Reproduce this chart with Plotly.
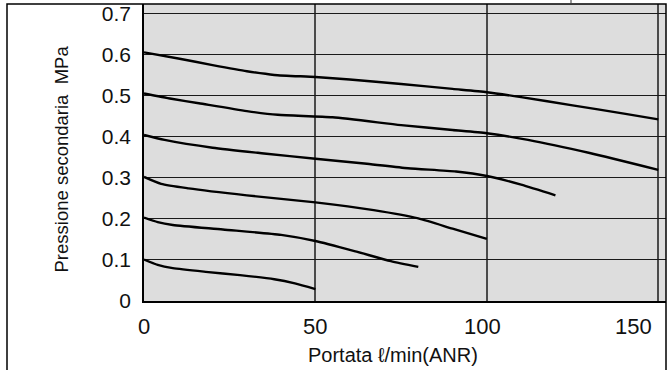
import plotly.graph_objects as go

# Flow (l/min ANR) and secondary pressure (MPa) for each set pressure curve
flow_06 = [0, 10, 20, 30, 38, 50, 60, 75, 90, 100, 110, 125, 140, 150]
pres_06 = [0.605, 0.590, 0.574, 0.559, 0.550, 0.545, 0.539, 0.528, 0.516, 0.508, 0.496, 0.476, 0.456, 0.442]

flow_05 = [0, 8, 16, 30, 39, 55, 75, 90, 100, 112, 130, 150]
pres_05 = [0.505, 0.492, 0.481, 0.462, 0.453, 0.447, 0.428, 0.416, 0.408, 0.392, 0.360, 0.319]

flow_04 = [0, 6, 20, 35, 50, 65, 77, 91, 100, 110, 120]
pres_04 = [0.404, 0.392, 0.373, 0.359, 0.346, 0.334, 0.323, 0.315, 0.304, 0.283, 0.257]

flow_03 = [0, 5, 13, 30, 50, 67, 80, 90, 100]
pres_03 = [0.302, 0.285, 0.274, 0.257, 0.240, 0.221, 0.201, 0.176, 0.151]

flow_02 = [0, 4, 8.4, 23, 40, 50, 62, 72, 80]
pres_02 = [0.203, 0.192, 0.185, 0.174, 0.161, 0.146, 0.120, 0.097, 0.083]

flow_01 = [0, 4, 8.4, 18, 28, 38, 44, 50]
pres_01 = [0.101, 0.088, 0.080, 0.071, 0.063, 0.053, 0.043, 0.029]

x_ticks = [0, 50, 100, 150]
x_tick_labels = ["0", "50", "100", "150"]
x_label_shift = [0, 0, -4, -25]
y_ticks = [0, 0.1, 0.2, 0.3, 0.4, 0.5, 0.6, 0.7]
y_tick_labels = ["0", "0.1", "0.2", "0.3", "0.4", "0.5", "0.6", "0.7"]

FONT = "Liberation Sans, Arial, sans-serif"

fig = go.Figure()
for fx, py in [(flow_06, pres_06), (flow_05, pres_05), (flow_04, pres_04),
               (flow_03, pres_03), (flow_02, pres_02), (flow_01, pres_01)]:
    fig.add_trace(go.Scatter(x=fx, y=py, mode="lines",
                             line=dict(color="black", width=2.4, shape="spline", smoothing=0.6),
                             showlegend=False, hoverinfo="skip"))

W, H = 668, 370
ML, MR, MT, MB = 144, 2, 4, 69
pw, ph = W - ML - MR, H - MT - MB

def px(x):
    return (x - ML) / pw

def py_(y):
    return (H - MB - y) / ph

fig.update_layout(
    width=W, height=H,
    margin=dict(l=ML, r=MR, t=MT, b=MB, pad=0),
    paper_bgcolor="white",
    plot_bgcolor="#dddddd",
    font=dict(family=FONT, color="#111111"),
    xaxis=dict(range=[0, 152.25], tickvals=x_ticks, showticklabels=False,
               showgrid=True, gridcolor="#4a4a4a", gridwidth=1.5,
               zeroline=False, showline=True, linecolor="black", linewidth=1.5,
               ticks=""),
    yaxis=dict(range=[0, 0.7226], tickvals=y_ticks, ticktext=y_tick_labels,
               tickfont=dict(size=21, family=FONT, color="#111111"),
               showgrid=True, gridcolor="#1a1a1a", gridwidth=1,
               zeroline=False, showline=True, linecolor="black", linewidth=1.5,
               ticks="", ticklabelstandoff=7),
)

for xv, lab, sh in zip(x_ticks, x_tick_labels, x_label_shift):
    fig.add_annotation(x=xv, xref="x", y=py_(326), yref="paper", text=lab,
                       showarrow=False, xanchor="center", yanchor="middle",
                       xshift=sh, font=dict(size=22, family=FONT, color="#111111"))

fig.add_annotation(x=px(392.5), xref="paper", y=py_(355), yref="paper",
                   text="Portata ℓ/min(ANR)", showarrow=False,
                   xanchor="center", yanchor="middle",
                   font=dict(size=20, family=FONT, color="#111111"))
fig.add_annotation(x=px(60.5), xref="paper", y=py_(159), yref="paper",
                   text="Pressione secondaria  MPa", showarrow=False, textangle=-90,
                   xanchor="center", yanchor="middle",
                   font=dict(size=18.5, family=FONT, color="#111111"))

# outer frame (left, top, right; open at bottom)
fig.add_shape(type="path", xref="paper", yref="paper",
              path=f"M {px(7)} {py_(372)} L {px(7)} {py_(4)} L {px(666)} {py_(4)} L {px(666)} {py_(372)}",
              line=dict(color="black", width=1.5), layer="above")
# small cropped mark at top
fig.add_shape(type="line", xref="paper", yref="paper",
              x0=px(571), x1=px(571), y0=py_(0), y1=py_(3),
              line=dict(color="#777777", width=1.5))

fig.write_html("out.html")
